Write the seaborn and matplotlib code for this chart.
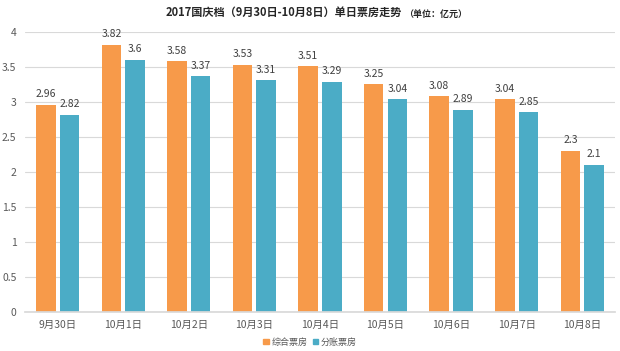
import matplotlib
matplotlib.use("Agg")
import matplotlib.pyplot as plt
import seaborn as sns
import pandas as pd
from matplotlib.patches import Patch

categories = ["9月30日", "10月1日", "10月2日", "10月3日", "10月4日", "10月5日", "10月6日", "10月7日", "10月8日"]
series_names = ["综合票房", "分账票房"]
total = [2.96, 3.82, 3.58, 3.53, 3.51, 3.25, 3.08, 3.04, 2.3]
split = [2.82, 3.6, 3.37, 3.31, 3.29, 3.04, 2.89, 2.85, 2.1]
yticks = [0, 0.5, 1, 1.5, 2, 2.5, 3, 3.5, 4]
ytick_labels = ["0", "0.5", "1", "1.5", "2", "2.5", "3", "3.5", "4"]

df = pd.DataFrame({
    "date": categories * 2,
    "series": [series_names[0]] * len(categories) + [series_names[1]] * len(categories),
    "value": total + split,
})

sns.set_theme(style="white")
plt.rcParams["font.family"] = ["Noto Sans CJK SC", "DejaVu Sans"]

fig = plt.figure(figsize=(6.2, 3.51), dpi=100)
ax = fig.add_axes([0.04, 0.111, 0.952, 0.798])

palette = {series_names[0]: "#F79A4A", series_names[1]: "#4BACC6"}
sns.barplot(data=df, x="date", y="value", hue="series", order=categories,
            hue_order=series_names, palette=palette, width=0.72, gap=0.17,
            saturation=1, ax=ax, legend=False, linewidth=0)

for cont in ax.containers:
    ax.bar_label(cont, labels=[f"{v:g}" for v in cont.datavalues], padding=4,
                 fontsize=7.5, color="#404040")

ax.set_ylim(0, 4)
ax.set_yticks(yticks)
ax.set_yticklabels(ytick_labels)
ax.set_xlim(-0.5, len(categories) - 0.5)
ax.yaxis.grid(True, color="#D9D9D9", linewidth=0.8)
ax.set_axisbelow(True)
for s in ["top", "right", "left"]:
    ax.spines[s].set_visible(False)
ax.spines["bottom"].set_color("#D9D9D9")
ax.tick_params(axis="both", labelsize=7.5, colors="#595959", length=0, pad=6)
ax.set_xlabel("")
ax.set_ylabel("")

fig.text(0.648, 0.964, "2017国庆档（9月30日-10月8日）单日票房走势", ha="right", va="center",
         fontsize=8, fontweight="bold", color="#262626")
fig.text(0.651, 0.958, "（单位：亿元）", ha="left", va="center", fontsize=6.5,
         fontweight="bold", color="#262626")

handles = [Patch(color=palette[n]) for n in series_names]
fig.legend(handles, series_names, loc="center", bbox_to_anchor=(0.5, 0.025), ncol=2,
           frameon=False, fontsize=6.5, handlelength=0.6, handleheight=0.6,
           handletextpad=0.3, columnspacing=0.6, labelcolor="#595959")

fig.savefig("out.png", dpi=100)
